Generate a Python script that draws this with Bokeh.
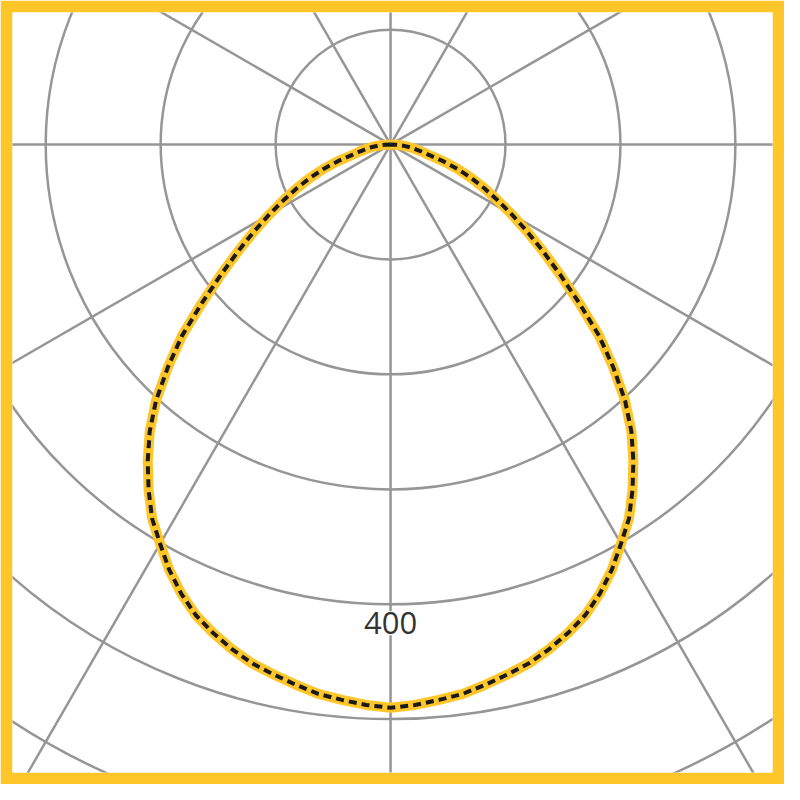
from bokeh.plotting import figure
from bokeh.models import Range1d
from bokeh.core.properties import value
from bokeh.embed import file_html
from bokeh.resources import INLINE
import numpy as np

# luminous intensity (cd/klm) against angle from the downward axis, one half
gamma = [0, 2.5, 5, 7.5, 10, 12.5, 15, 17.5, 20, 22.5, 25, 27.5, 30, 32.5, 35, 37.5,
         40, 42.5, 45, 47.5, 50, 52.5, 55, 57.5, 60, 62.5, 65, 67.5, 70, 72.5, 75,
         77.5, 80, 82.5, 85, 87.5, 90]
intensity = [490, 488, 485, 482, 477, 472, 467, 460, 452, 443, 431, 417, 401, 386, 367, 347,
             326, 302, 274, 246, 214, 186, 162, 141, 122, 105, 90, 76, 62, 48, 34,
             27, 21, 16, 11, 5, 0]

rings = [100, 200, 300, 400, 500, 600]
spokes = [0, 30, 60, 90, 120, 150, 180, 210, 240, 270, 300, 330]
ring_label = ["400"]
ring_label_value = [400]

yellow = "#FFC62A"
grey = "#969696"

p = figure(width=784, height=784, output_backend="svg", toolbar_location=None,
           x_axis_type=None, y_axis_type=None,
           x_range=Range1d(-328.9, 332.3), y_range=Range1d(-546.3, 114.9),
           min_border=12, border_fill_color=yellow,
           background_fill_color="white", outline_line_color=None)

# polar grid
p.ray(x=[0] * len(spokes), y=[0] * len(spokes), length=0,
      angle=spokes, angle_units="deg", line_color=grey, line_width=2.5)
p.circle(x=[0] * len(rings), y=[0] * len(rings), radius=rings,
         fill_color=None, line_color=grey, line_width=2.5)

# ring value, placed just below its ring on the downward axis
p.text(x=[0], y=[-v - 16.5 for v in ring_label_value], text=ring_label,
       text_align="center", text_baseline="middle",
       text_font=value("Open Sans"), text_font_size="31px", text_color="#333333",
       background_fill_color="white", padding=1)

# curve: mirror the half-plane to both sides
g = np.radians(np.array([-a for a in gamma[::-1]] + gamma[1:]))
r = np.array(intensity[::-1] + intensity[1:])
xs = r * np.sin(g)
ys = -r * np.cos(g)

p.line(xs, ys, line_color=yellow, line_width=10, line_join="round")
p.line(xs, ys, line_color="#1a1a1a", line_width=4, line_dash="8 5")

open("out.html", "w").write(file_html(p, INLINE))
